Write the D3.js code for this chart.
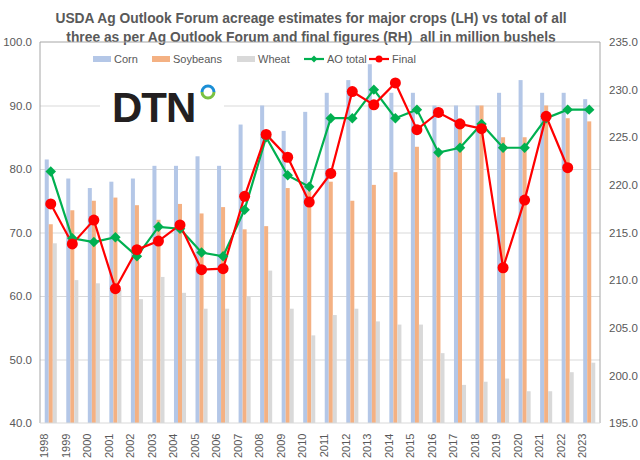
<!DOCTYPE html>
<html>
<head>
<meta charset="utf-8">
<script src="https://cdn.jsdelivr.net/npm/d3@7"></script>
<style>
  body { margin: 0; background: #fff; }
  text { font-family: Arial, "Liberation Sans", sans-serif; }
</style>
</head>
<body>
<svg id="chart" width="640" height="460"></svg>
<script>
const years = [1998, 1999, 2000, 2001, 2002, 2003, 2004, 2005, 2006, 2007, 2008, 2009, 2010,
  2011, 2012, 2013, 2014, 2015, 2016, 2017, 2018, 2019, 2020, 2021, 2022, 2023];
const corn = [81.5, 78.5, 77.0, 78.0, 78.5, 80.5, 80.5, 82.0, 80.5, 87.0, 90.0, 86.0, 89.0,
  92.0, 94.0, 96.5, 92.0, 92.0, 90.0, 90.0, 90.0, 92.0, 94.0, 92.0, 92.0, 91.0];
const soybeans = [71.3, 73.5, 75.0, 75.5, 74.3, 72.0, 74.5, 73.0, 74.0, 70.5, 71.0, 77.0, 76.5,
  78.0, 75.0, 77.5, 79.5, 83.5, 82.5, 88.0, 90.0, 85.0, 85.0, 90.0, 88.0, 87.5];
const wheat = [68.3, 62.5, 62.0, 61.0, 59.5, 63.0, 60.5, 58.0, 58.0, 60.0, 64.0, 58.0, 53.8,
  57.0, 58.0, 56.0, 55.5, 55.5, 51.0, 46.0, 46.5, 47.0, 45.0, 45.0, 48.0, 49.5];
const aoTotal = [221.4, 214.4, 214.0, 214.5, 212.5, 215.6, 215.4, 212.9, 212.5, 217.4, 225.0, 221.0, 219.8,
  227.0, 227.0, 230.0, 227.0, 227.9, 223.4, 223.9, 226.4, 223.9, 223.9, 227.0, 227.9, 227.9];
const finalTotal = [218.0, 213.8, 216.3, 209.1, 213.2, 214.1, 215.8, 211.1, 211.2, 218.8, 225.3, 222.9, 218.2,
  221.2, 229.8, 228.4, 230.7, 225.8, 227.6, 226.4, 225.9, 211.3, 218.4, 227.2, 221.8, null];
const leftTicks = [40, 50, 60, 70, 80, 90, 100];
const rightTicks = [195, 200, 205, 210, 215, 220, 225, 230, 235];

const titleLines = [
  "USDA Ag Outlook Forum acreage estimates for major crops (LH) vs total of all",
  "three as per Ag Outlook Forum and final figures (RH)  all in million bushels"
];

const plot = { left: 40, right: 600, top: 42, bottom: 423 };
const colors = { corn: "#b4c7e7", soybeans: "#f4b183", wheat: "#d9d9d9", ao: "#00b050", final: "#ff0000" };
const textColor = "#595959";

const svg = d3.select("#chart");

const x0 = d3.scaleBand()
  .domain(years)
  .range([plot.left, plot.right])
  .paddingInner(0.44)
  .paddingOuter(0.22);
const x1 = d3.scaleBand()
  .domain(["corn", "soybeans", "wheat"])
  .range([0, x0.bandwidth()]);
const yL = d3.scaleLinear().domain([40, 100]).range([plot.bottom, plot.top]);
const yR = d3.scaleLinear().domain([195, 235]).range([plot.bottom, plot.top]);
const cx = d => x0(d) + x0.bandwidth() / 2;

// title
svg.append("g").selectAll("text")
  .data(titleLines)
  .join("text")
  .attr("x", 311)
  .attr("y", (d, i) => 23 + i * 19)
  .attr("text-anchor", "middle")
  .attr("font-size", 13.8)
  .attr("font-weight", "bold")
  .attr("fill", textColor)
  .style("white-space", "pre")
  .text(d => d);

// gridlines from left axis
svg.append("g")
  .attr("transform", `translate(${plot.left},0)`)
  .call(d3.axisLeft(yL).tickValues(leftTicks.slice(1, -1)).tickSize(-(plot.right - plot.left)).tickFormat(""))
  .call(g => g.select(".domain").remove())
  .call(g => g.selectAll("line").attr("stroke", "#d9d9d9"));

// logo box
const logo = svg.append("g");
logo.append("rect").attr("x", 100).attr("y", 78).attr("width", 124).attr("height", 52).attr("fill", "#fff");
logo.append("text")
  .attr("x", 112).attr("y", 122)
  .attr("font-size", 42)
  .attr("font-weight", "bold")
  .attr("font-family", "'DejaVu Sans', sans-serif")
  .attr("fill", "#231f20")
  .attr("letter-spacing", -1)
  .text("DTN");
const ringArc = d3.arc().innerRadius(4.5).outerRadius(7.5);
const ring = logo.append("g").attr("transform", "translate(208,92)");
ring.append("path").attr("d", ringArc({ startAngle: -Math.PI / 2, endAngle: Math.PI / 2 })).attr("fill", "#1b8fd6");
ring.append("path").attr("d", ringArc({ startAngle: Math.PI / 2, endAngle: Math.PI * 1.5 })).attr("fill", "#7ac143");

// bars
const rows = years.map((yr, i) => ({ year: yr, corn: corn[i], soybeans: soybeans[i], wheat: wheat[i] }));
svg.append("g").selectAll("g")
  .data(rows)
  .join("g")
  .attr("transform", d => `translate(${x0(d.year)},0)`)
  .selectAll("rect")
  .data(d => x1.domain().map(k => ({ key: k, value: d[k] })))
  .join("rect")
  .attr("x", d => x1(d.key))
  .attr("width", x1.bandwidth())
  .attr("y", d => yL(d.value))
  .attr("height", d => yL(40) - yL(d.value))
  .attr("fill", d => colors[d.key]);

// plot border
svg.append("path")
  .attr("d", `M${plot.left},${plot.bottom}V${plot.top}H${plot.right}V${plot.bottom}`)
  .attr("fill", "none")
  .attr("stroke", "#a6a6a6");
svg.append("line")
  .attr("x1", plot.left).attr("x2", plot.right)
  .attr("y1", plot.bottom).attr("y2", plot.bottom)
  .attr("stroke", "#d9d9d9");

// axes
const styleAxis = g => {
  g.select(".domain").remove();
  g.selectAll("line").remove();
  g.selectAll("text").attr("fill", textColor).attr("font-size", 11.5).attr("font-family", "Arial, 'Liberation Sans', sans-serif");
};
svg.append("g")
  .attr("transform", `translate(${plot.left - 5},0)`)
  .call(d3.axisLeft(yL).tickValues(leftTicks).tickFormat(d3.format(".1f")).tickSize(0))
  .call(styleAxis);
svg.append("g")
  .attr("transform", `translate(${plot.right + 6},0)`)
  .call(d3.axisRight(yR).tickValues(rightTicks).tickFormat(d3.format(".1f")).tickSize(0))
  .call(styleAxis);
svg.append("g")
  .attr("transform", `translate(0,${plot.bottom})`)
  .call(d3.axisBottom(x0).tickSize(0))
  .call(styleAxis)
  .call(g => g.selectAll("text")
    .attr("transform", "rotate(-90)")
    .attr("text-anchor", "end")
    .attr("dx", "-0.6em")
    .attr("dy", "-0.25em")
    .attr("y", 0)
    .attr("x", -4)
    .attr("font-size", 11));

// lines
const line = d3.line()
  .defined(d => d.v != null)
  .x(d => cx(d.year))
  .y(d => yR(d.v));
const aoPts = years.map((yr, i) => ({ year: yr, v: aoTotal[i] }));
const finPts = years.map((yr, i) => ({ year: yr, v: finalTotal[i] })).filter(d => d.v != null);

svg.append("path").datum(aoPts).attr("d", line).attr("fill", "none").attr("stroke", colors.ao).attr("stroke-width", 2.2);
svg.append("path").datum(finPts).attr("d", line).attr("fill", "none").attr("stroke", colors.final).attr("stroke-width", 2.2);

const diamond = d3.symbol().type(d3.symbolDiamond2).size(70);
svg.append("g").selectAll("path")
  .data(aoPts)
  .join("path")
  .attr("transform", d => `translate(${cx(d.year)},${yR(d.v)})`)
  .attr("d", diamond)
  .attr("fill", colors.ao);
svg.append("g").selectAll("circle")
  .data(finPts)
  .join("circle")
  .attr("cx", d => cx(d.year))
  .attr("cy", d => yR(d.v))
  .attr("r", 5.5)
  .attr("fill", colors.final);

// legend
const legendItems = [
  { name: "Corn", type: "bar", color: colors.corn, x: 93 },
  { name: "Soybeans", type: "bar", color: colors.soybeans, x: 152 },
  { name: "Wheat", type: "bar", color: colors.wheat, x: 237 },
  { name: "AO total", type: "ao", color: colors.ao, x: 304 },
  { name: "Final", type: "final", color: colors.final, x: 369 }
];
const lg = svg.append("g").selectAll("g")
  .data(legendItems)
  .join("g")
  .attr("transform", d => `translate(${d.x},59)`);
lg.filter(d => d.type === "bar").append("rect")
  .attr("x", 0).attr("y", -3).attr("width", 18).attr("height", 6)
  .attr("fill", d => d.color);
lg.filter(d => d.type !== "bar").append("line")
  .attr("x1", 0).attr("x2", 20).attr("stroke", d => d.color).attr("stroke-width", 2.2);
lg.filter(d => d.type === "ao").append("path")
  .attr("transform", "translate(10,0)")
  .attr("d", d3.symbol().type(d3.symbolDiamond2).size(30))
  .attr("fill", colors.ao);
lg.filter(d => d.type === "final").append("circle")
  .attr("cx", 10).attr("r", 3.5).attr("fill", colors.final);
lg.append("text")
  .attr("x", d => d.type === "bar" ? 21 : 23)
  .attr("y", 4)
  .attr("font-size", 11)
  .attr("fill", textColor)
  .text(d => d.name);
</script>
</body>
</html>
